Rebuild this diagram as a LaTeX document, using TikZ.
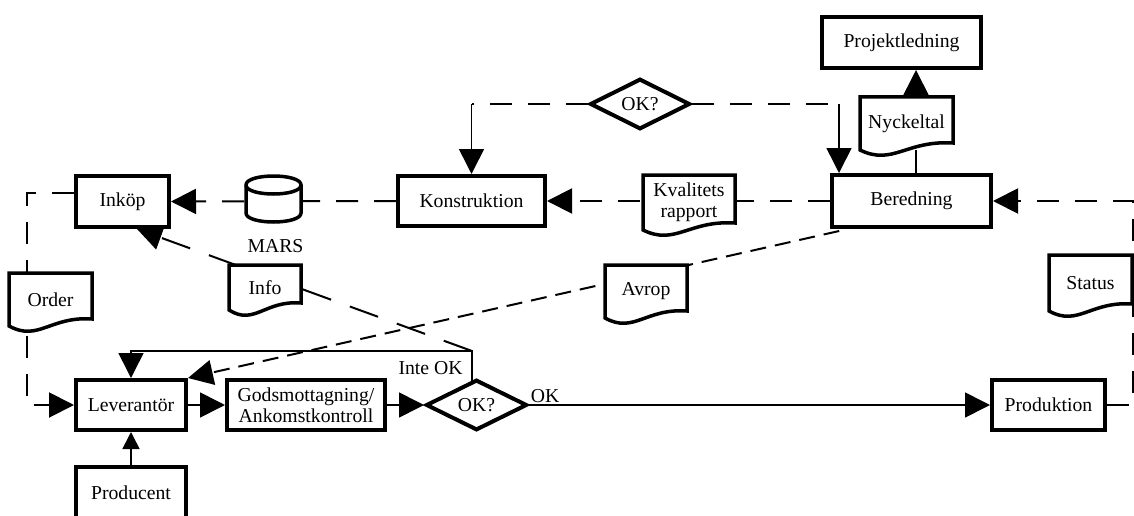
\documentclass[tikz,border=0pt]{standalone}
\usepackage{fontspec}
\setmainfont{Liberation Serif}
\usetikzlibrary{arrows.meta,shapes.geometric,calc}
\pgfdeclarelayer{links}
\pgfdeclarelayer{outlines}
\pgfsetlayers{links,outlines,main}

\tikzset{
  lbl/.style={font=\fontsize{19.7}{21}\selectfont, inner sep=0pt},
  box/.style={lbl, draw, line width=4pt, fill=white, rectangle},
  decision/.style={lbl, draw, line width=4pt, fill=white, diamond},
  doc/.style={lbl, rectangle, outer sep=0pt, align=center},
  docline/.style={line width=3.5pt, fill=white, line join=miter},
  cyl/.style={line width=3.5pt},
  bigtip/.tip={Triangle[length=25pt,width=25pt]},
  smalltip/.tip={Triangle[length=17pt,width=17pt]},
  flow/.style={line width=1.6pt},
  dashline/.style={line width=2pt, dash pattern=on 22pt off 16pt},
  infoline/.style={line width=2pt, dash pattern=on 30pt off 20pt},
  callline/.style={line width=2pt, dash pattern=on 16pt off 9pt, dash phase=16pt},
}

% document symbol: flat top, wavy bottom
\newcommand\docoutline[1]{%
  \draw[docline] (#1.north west) -- (#1.north east) -- ($(#1.south east)+(0,-7)$)
    .. controls ($(#1.south west)!0.5!(#1.south east)+(0,-10)$)
           and ($(#1.south west)!0.35!(#1.south east)+(0,16)$) .. (#1.south west) -- cycle;}

\begin{document}
\begin{tikzpicture}[x=1pt, y=-1pt]
\useasboundingbox (0,0) rectangle (1134,516);

% ---- process boxes ----
\node[box, minimum width=159pt, minimum height=51pt] (proj) at (901.5,42.5) {Projektledning};
\node[box, minimum width=147pt, minimum height=50pt] (konstr) at (471.5,201) {Konstruktion};
\node[box, minimum width=159pt, minimum height=52pt] (bered) at (911.5,201) {Beredning};
\node[box, minimum width=93pt, minimum height=51pt] (inkop) at (122.5,201.5) {Inköp};
\node[box, minimum width=110pt, minimum height=50pt] (lev) at (131,405) {Leverantör};
\node[box, minimum width=110pt, minimum height=52pt] (producent) at (131,493) {Producent};
\node[box, minimum width=158pt, minimum height=50pt, align=center] (gods) at (306,405)
  {Godsmottagning/\\Ankomstkontroll};
\node[box, minimum width=113pt, minimum height=50pt] (produktion) at (1048.5,405) {Produktion};

% ---- decisions ----
\node[decision, minimum width=100pt, minimum height=48pt] (okTop) at (640,104) {OK?};
\node[decision, minimum width=101pt, minimum height=49pt] (okBot) at (476.5,405) {OK?};

% ---- documents ----
\node[doc, minimum width=92pt, minimum height=55pt] (kval) at (689,202.5) {Kvalitets\\rapport};
\node[doc, minimum width=93pt, minimum height=53pt] (nyck) at (906.5,123.5) {Nyckeltal};
\node[doc, minimum width=83pt, minimum height=53pt] (order) at (50.5,299.5) {Order};
\node[doc, minimum width=72pt, minimum height=45pt] (info) at (265,287.5) {Info};
\node[doc, minimum width=82pt, minimum height=53pt] (avrop) at (646,291.5) {Avrop};
\node[doc, minimum width=83pt, minimum height=56pt] (status) at (1090.5,283) {Status};

% ---- database ----
\node[lbl, rectangle, outer sep=0pt, minimum width=55pt, minimum height=46pt] (mars) at (273.5,199) {};
\node[lbl] (marslab) at (275.5,246) {MARS};

% ---- free labels ----
\node[lbl] (inteok) at (430.5,368) {Inte OK};
\node[lbl] (oklab) at (545,396) {OK};

% ---- shape outlines ----
\begin{pgfonlayer}{outlines}
  \docoutline{kval}
  \docoutline{nyck}
  \docoutline{order}
  \docoutline{info}
  \docoutline{avrop}
  \docoutline{status}
  \coordinate (mt) at ($(mars.north)+(0,9)$);
  \coordinate (mb) at ($(mars.south)+(0,-9)$);
  \draw[cyl, fill=white] ($(mt)+(-27.5,0)$) -- ($(mb)+(-27.5,0)$)
    .. controls ($(mb)+(-27.5,12)$) and ($(mb)+(27.5,12)$) .. ($(mb)+(27.5,0)$)
    -- ($(mt)+(27.5,0)$)
    .. controls ($(mt)+(27.5,-12)$) and ($(mt)+(-27.5,-12)$) .. cycle;
  \draw[cyl] ($(mt)+(-27.5,0)$) .. controls ($(mt)+(-27.5,12)$) and ($(mt)+(27.5,12)$) .. ($(mt)+(27.5,0)$);
\end{pgfonlayer}

% ---- connectors ----
\begin{pgfonlayer}{links}
  % top decision feeding Konstruktion and Beredning
  \coordinate (kTop) at (konstr.north |- okTop.west);
  \coordinate (bIn) at ($(bered.north west)+(9,0)$);
  \coordinate (bTop) at (bIn |- okTop.east);
  \draw[dashline] (okTop.west) -- (kTop);
  \draw[flow, -bigtip] (kTop) -- (konstr.north);
  \draw[dashline] (okTop.east) -- (bTop);
  \draw[flow, -bigtip] (bTop) -- (bIn);

  % Beredning -> Konstruktion -> Inköp
  \draw[dashline, -bigtip] (bered.west) -- (konstr.west -| konstr.east);
  \draw[dashline, -bigtip] (konstr.west) -- (inkop.east);

  % Beredning -> Nyckeltal -> Projektledning
  \coordinate (nx) at (916,0);
  \draw[flow] (nx |- bered.north) -- (nx |- nyck.south);
  \draw[flow, -bigtip] (nx |- nyck.north) -- (nx |- proj.south);

  % Produktion -> Status -> Beredning
  \coordinate (rx) at (1133,0);
  \draw[dashline, -bigtip] (produktion.east) -- (produktion.east -| rx)
    -- (bered.east -| rx) -- (bered.east);

  % Inköp -> Order -> Leverantör
  \coordinate (lx) at (27,0);
  \coordinate (iOut) at ($(inkop.west)+(0,-9)$);
  \draw[dashline, -bigtip] (iOut) -- (iOut -| lx) -- (lev.west -| lx) -- (lev.west);

  % main flow
  \draw[flow, -smalltip] (producent.north) -- (lev.south);
  \draw[flow, -bigtip] (lev.east) -- (gods.west);
  \draw[flow, -bigtip] (gods.east) -- (okBot.west);
  \draw[flow, -bigtip] (okBot.east) -- (produktion.west);

  % rejected goods back to Leverantör
  \coordinate (corner) at (472,351);
  \draw[flow, -bigtip] (corner |- okBot.center) -- (corner) -| (lev.north);

  % Info back to Inköp
  \draw[infoline, -bigtip] (corner) -- ($(inkop.south)+(14.5,0)$);

  % Avrop from Beredning to Leverantör
  \draw[callline, -bigtip] ($(bered.south west)+(18,0)$) -- (lev.north east);
\end{pgfonlayer}
\end{tikzpicture}
\end{document}
